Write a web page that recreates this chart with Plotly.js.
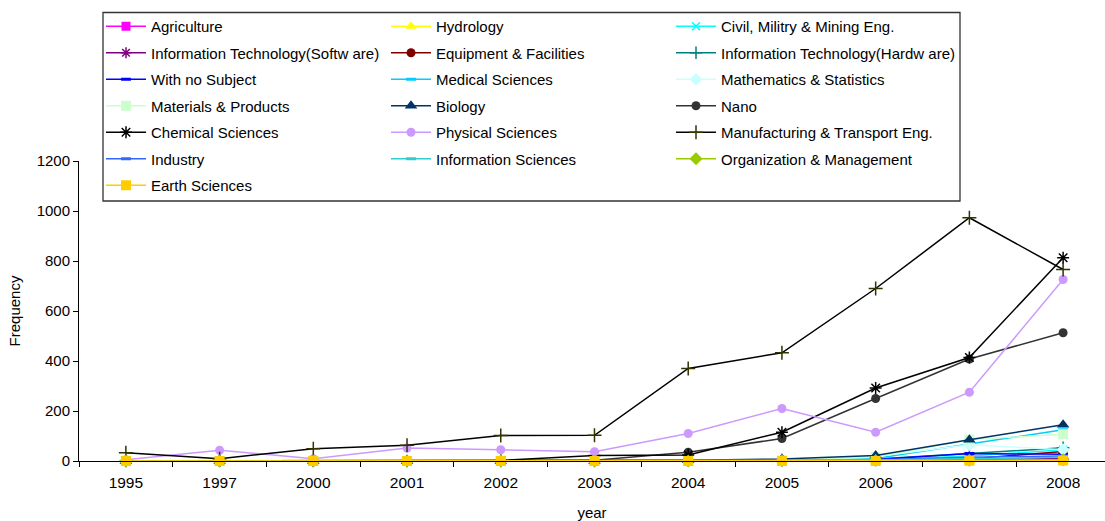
<!DOCTYPE html>
<html>
<head>
<meta charset="utf-8">
<script src="https://cdn.plot.ly/plotly-3.0.1.min.js"></script>
<style>
  html, body { margin: 0; padding: 0; background: #fff; }
  #chart { width: 1105px; height: 521px; }
</style>
</head>
<body>
<div id="chart"></div>
<script>
// Publications per subject area, by year
var years = ['1995', '1997', '2000', '2001', '2002', '2003', '2004', '2005', '2006', '2007', '2008'];

var agriculture       = [0, 0, 0, 0, 0, 0, 0, 1, 2, 3, 5];
var hydrology         = [0, 0, 0, 0, 0, 0, 0, 0, 1, 2, 3];
var civilEng          = [0, 0, 0, 0, 0, 0, 1, 2, 5, 20, 45];
var itSoftware        = [0, 0, 0, 0, 0, 0, 0, 1, 2, 5, 10];
var equipment         = [0, 0, 0, 0, 0, 0, 0, 1, 2, 8, 38];
var itHardware        = [0, 0, 0, 0, 0, 0, 2, 4, 8, 30, 53];
var noSubject         = [0, 0, 0, 0, 0, 0, 1, 3, 6, 30, 27];
var medical           = [0, 0, 0, 0, 0, 0, 2, 4, 10, 68, 125];
var mathStats         = [0, 0, 0, 0, 0, 0, 1, 3, 18, 65, 45];
var materials         = [0, 0, 0, 0, 0, 0, 1, 3, 15, 86, 107];
var biology           = [0, 0, 0, 0, 0, 0, 3, 8, 22, 85, 145];
var nano              = [0, 0, 0, 0, 0, 3, 35, 90, 250, 408, 513];
var chemical          = [0, 0, 0, 0, 2, 22, 24, 115, 292, 414, 813];
var physical          = [5, 43, 9, 52, 45, 37, 110, 210, 115, 275, 726];
var manufacturing     = [33, 9, 49, 63, 102, 103, 370, 433, 690, 973, 766];
var industry          = [0, 0, 0, 0, 0, 0, 1, 2, 5, 15, 20];
var infoSciences      = [0, 0, 0, 0, 0, 0, 1, 2, 4, 10, 15];
var organization      = [0, 0, 0, 0, 0, 0, 0, 1, 2, 3, 5];
var earthSciences     = [0, 0, 0, 0, 0, 0, 0, 0, 0, 1, 2];

var seriesNames = [
  'Agriculture', 'Hydrology', 'Civil, Militry & Mining Eng.',
  'Information Technology(Softw are)', 'Equipment & Facilities', 'Information Technology(Hardw are)',
  'With no Subject', 'Medical Sciences', 'Mathematics & Statistics',
  'Materials & Products', 'Biology', 'Nano',
  'Chemical Sciences', 'Physical Sciences', 'Manufacturing & Transport Eng.',
  'Industry', 'Information Sciences', 'Organization & Management',
  'Earth Sciences'
];
var seriesValues = [
  agriculture, hydrology, civilEng,
  itSoftware, equipment, itHardware,
  noSubject, medical, mathStats,
  materials, biology, nano,
  chemical, physical, manufacturing,
  industry, infoSciences, organization,
  earthSciences
];

// line colour, marker colour, symbol, marker size, marker stroke width
var styles = [
  ['#FF00FF', '#FF00FF', 'square', 9, 0],
  ['#FFFF00', '#FFFF00', 'triangle-up', 10, 0],
  ['#00FFFF', '#00FFFF', 'x-thin-open', 8, 1.5],
  ['#800080', '#800080', 'asterisk-open', 9, 1.5],
  ['#800000', '#800000', 'circle', 9, 0],
  ['#008080', '#008080', 'cross-thin-open', 9, 1.5],
  ['#0000FF', '#0000FF', 'line-ew-open', 7, 3],
  ['#00CCFF', '#00CCFF', 'line-ew-open', 7, 3],
  ['#CCFFFF', '#CCFFFF', 'diamond', 10, 0],
  ['#CCFFCC', '#CCFFCC', 'square', 10, 0],
  ['#003366', '#003366', 'triangle-up', 11, 0],
  ['#333333', '#333333', 'circle', 9, 0],
  ['#000000', '#000000', 'asterisk-open', 10, 1.5],
  ['#CC99FF', '#CC99FF', 'circle', 9, 0],
  ['#000000', '#333300', 'cross-thin-open', 10, 1.5],
  ['#3366FF', '#3366FF', 'line-ew-open', 7, 3],
  ['#33CCCC', '#33CCCC', 'line-ew-open', 7, 3],
  ['#99CC00', '#99CC00', 'diamond', 10, 0],
  ['#FFCC00', '#FFCC00', 'square', 10, 0]
];

// legend column for each series (three side-by-side columns, filled row by row)
var legendIds = ['legend', 'legend2', 'legend3'];

var traces = seriesNames.map(function (name, i) {
  var s = styles[i];
  return {
    type: 'scatter',
    mode: 'lines+markers',
    name: name,
    x: years,
    y: seriesValues[i],
    cliponaxis: false,
    legend: legendIds[i % 3],
    legendgroup: 'g' + i,
    line: { color: s[0], width: 1.5 },
    marker: {
      color: s[1],
      symbol: s[2],
      size: s[3],
      line: { color: s[1], width: s[4] }
    },
    hoverinfo: 'x+y+name'
  };
});

// plot area in pixels: left 79, right 1105, top 161, bottom 461
var L = 79, R = 1105, T = 161, B = 461;
function px(x) { return (x - L) / (R - L); }
function py(y) { return (B - y) / (B - T); }

var legendFont = { family: 'Liberation Sans, Arial, sans-serif', size: 15, color: '#000' };
function legendAt(left) {
  return {
    x: px(left), y: py(10), xref: 'paper', yref: 'paper',
    xanchor: 'left', yanchor: 'top',
    bgcolor: 'rgba(0,0,0,0)', borderwidth: 0,
    font: legendFont, tracegroupgap: 4, itemwidth: 40,
    orientation: 'v', traceorder: 'grouped'
  };
}

var layout = {
  width: 1105,
  height: 521,
  paper_bgcolor: '#fff',
  plot_bgcolor: '#fff',
  showlegend: true,
  font: { family: 'Liberation Sans, Arial, sans-serif', size: 15, color: '#000' },
  margin: { l: L, r: 1105 - R, t: T, b: 521 - B, pad: 0, autoexpand: false },
  xaxis: {
    type: 'category',
    range: [-0.5, 10.447],
    showline: true, linecolor: '#000', linewidth: 1,
    ticks: 'outside', tickson: 'boundaries', ticklen: 5, tickcolor: '#000',
    ticklabelstandoff: 7,
    showgrid: false, zeroline: false, fixedrange: true,
    tickfont: { size: 15.5 },
    title: { text: 'year', font: { size: 15 }, standoff: 17 }
  },
  yaxis: {
    range: [0, 1200],
    tickvals: [0, 200, 400, 600, 800, 1000, 1200],
    showline: true, linecolor: '#000', linewidth: 1,
    ticks: 'outside', ticklen: 5, tickcolor: '#000',
    showgrid: false, zeroline: false, fixedrange: true,
    tickfont: { size: 15 },
    title: { text: 'Frequency', font: { size: 15 }, standoff: 12 }
  },
  legend: legendAt(101),
  legend2: legendAt(386),
  legend3: legendAt(671),
  shapes: [{
    type: 'rect', xref: 'paper', yref: 'paper',
    x0: px(103), x1: px(960), y0: py(201), y1: py(12.5),
    line: { color: '#333', width: 1.3 }, fillcolor: 'rgba(0,0,0,0)', layer: 'below'
  }]
};

Plotly.newPlot('chart', traces, layout, { displayModeBar: false, staticPlot: true });
</script>
</body>
</html>
